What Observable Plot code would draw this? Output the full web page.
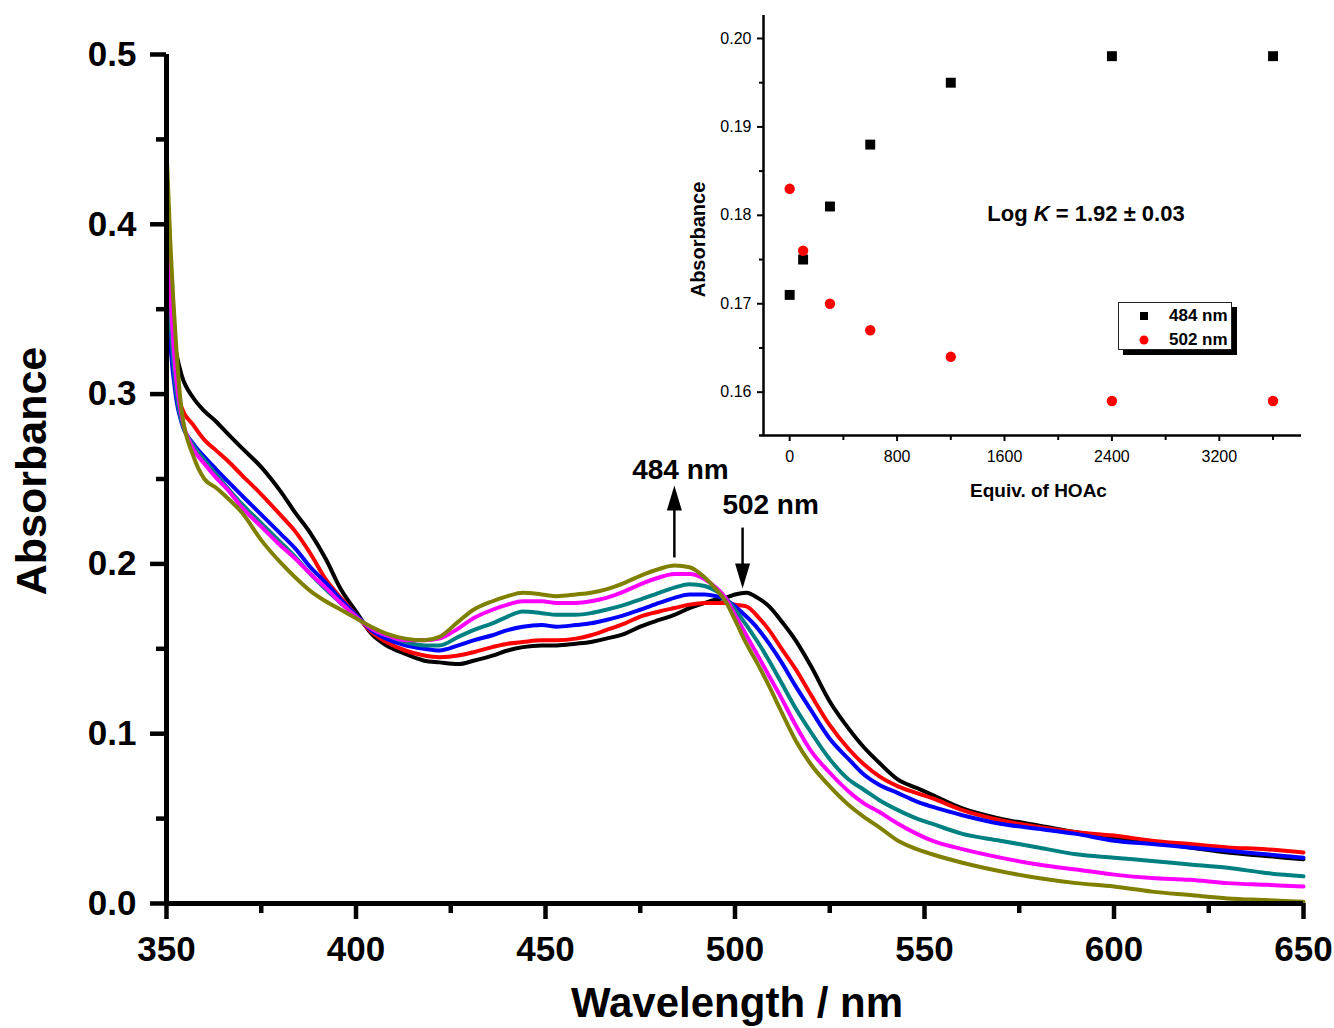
<!DOCTYPE html>
<html>
<head>
<meta charset="utf-8">
<script src="https://cdn.jsdelivr.net/npm/d3@7"></script>
<script src="https://cdn.jsdelivr.net/npm/@observablehq/plot@0.6"></script>
<style>
  body { margin: 0; background: #fff; }
  #wrap { position: relative; width: 1334px; height: 1028px; overflow: hidden; font-family: "Liberation Sans", Arial, sans-serif; }
  #inset { position: absolute; left: 680px; top: 0; }
  #logk { position: absolute; left: 1086px; top: 214px; transform: translate(-50%, -50%); font-weight: bold; font-size: 22px; white-space: nowrap; }
  #legend { position: absolute; left: 1118px; top: 302px; width: 114px; height: 48px; border: 1px solid #222; background: #fff; box-shadow: 5px 5px 0 #000; box-sizing: border-box; }
  #legend .row { position: absolute; left: 0; height: 20px; width: 114px; }
  #legend svg { position: absolute; left: 18px; top: 3px; }
  #legend span { position: absolute; left: 50px; top: 0; font-weight: bold; font-size: 17px; line-height: 20px; }
</style>
</head>
<body>
<div id="wrap"></div>
<script>
// ---------- Main spectra data ----------
const wavelengths = [350,351,352.5,354,357,360,363,366,370,375,380,384,388,392,396,400,404,408,413,418,422,427,431,436,440,444,449,453,458,462,466,471,475,480,484,488,492,495,497.5,500,503,506,509,512,516,520,525,530,534,538,543,548,552,560,570,580,590,600,610,620,630,640,650];

const absBlack = [0.370,0.345,0.325,0.311,0.298,0.290,0.284,0.277,0.268,0.257,0.243,0.230,0.218,0.203,0.185,0.172,0.159,0.152,0.147,0.143,0.142,0.141,0.143,0.146,0.149,0.151,0.152,0.152,0.153,0.154,0.156,0.159,0.163,0.167,0.170,0.174,0.177,0.179,0.180,0.182,0.183,0.180,0.175,0.167,0.155,0.140,0.119,0.103,0.092,0.083,0.073,0.068,0.064,0.056,0.050,0.046,0.042,0.039,0.036,0.033,0.030,0.028,0.026];
const absRed = [0.360,0.330,0.305,0.292,0.282,0.273,0.267,0.261,0.252,0.241,0.229,0.219,0.206,0.191,0.180,0.170,0.160,0.154,0.149,0.146,0.145,0.146,0.148,0.151,0.153,0.154,0.155,0.155,0.156,0.158,0.161,0.165,0.169,0.172,0.174,0.176,0.177,0.177,0.177,0.176,0.175,0.169,0.161,0.151,0.138,0.123,0.105,0.091,0.082,0.075,0.069,0.065,0.062,0.055,0.049,0.045,0.042,0.040,0.037,0.035,0.033,0.032,0.030];
const absBlue = [0.370,0.330,0.298,0.283,0.271,0.263,0.256,0.249,0.240,0.229,0.218,0.209,0.198,0.189,0.179,0.170,0.161,0.156,0.152,0.150,0.149,0.152,0.155,0.158,0.161,0.163,0.164,0.163,0.164,0.165,0.167,0.170,0.173,0.177,0.180,0.182,0.182,0.181,0.179,0.175,0.169,0.162,0.153,0.143,0.128,0.114,0.097,0.085,0.076,0.070,0.065,0.060,0.057,0.052,0.047,0.044,0.041,0.037,0.035,0.033,0.031,0.029,0.027];
const absTeal = [0.390,0.345,0.303,0.284,0.270,0.261,0.253,0.245,0.235,0.224,0.213,0.204,0.194,0.185,0.177,0.169,0.162,0.158,0.154,0.152,0.152,0.157,0.161,0.165,0.169,0.172,0.171,0.170,0.170,0.171,0.173,0.176,0.179,0.183,0.186,0.188,0.187,0.184,0.180,0.173,0.164,0.154,0.143,0.131,0.115,0.101,0.085,0.073,0.067,0.061,0.055,0.050,0.047,0.041,0.037,0.033,0.029,0.027,0.025,0.023,0.021,0.018,0.016];
const absMagenta = [0.410,0.360,0.310,0.287,0.268,0.259,0.251,0.244,0.233,0.222,0.211,0.203,0.194,0.186,0.177,0.169,0.162,0.158,0.155,0.155,0.156,0.162,0.168,0.173,0.176,0.178,0.178,0.177,0.177,0.178,0.180,0.184,0.188,0.192,0.194,0.194,0.191,0.186,0.180,0.170,0.158,0.146,0.134,0.122,0.105,0.090,0.077,0.066,0.059,0.054,0.047,0.041,0.037,0.032,0.027,0.023,0.020,0.017,0.015,0.014,0.012,0.011,0.010];
const absOlive = [0.445,0.390,0.330,0.290,0.264,0.250,0.245,0.239,0.230,0.214,0.201,0.192,0.184,0.178,0.173,0.168,0.163,0.159,0.156,0.155,0.157,0.166,0.173,0.178,0.181,0.183,0.182,0.181,0.182,0.183,0.185,0.189,0.193,0.197,0.199,0.198,0.192,0.185,0.178,0.167,0.153,0.141,0.128,0.114,0.096,0.082,0.069,0.058,0.051,0.045,0.037,0.032,0.029,0.024,0.019,0.015,0.012,0.010,0.007,0.005,0.003,0.002,0.001];

const seriesNames = ["0", "1", "2", "3", "4", "5"];
const seriesColors = ["#000000", "#ff0000", "#0000ff", "#008080", "#ff00ff", "#808000"];
const seriesValues = [absBlack, absRed, absBlue, absTeal, absMagenta, absOlive];

const xMajorTicks = [350, 400, 450, 500, 550, 600, 650];
const xMinorTicks = [375, 425, 475, 525, 575, 625];
const yMajorTicks = [0, 0.1, 0.2, 0.3, 0.4, 0.5];
const yMinorTicks = [0.05, 0.15, 0.25, 0.35, 0.45];

const xTitle = "Wavelength / nm";
const yTitle = "Absorbance";

// annotations (peak arrows)
const peakWl = [484, 502];
const peakLabels = ["484 nm", "502 nm"];

// ---------- Inset titration data ----------
const equiv = [0, 100, 300, 600, 1200, 2400, 3600];
const abs484 = [0.171, 0.175, 0.181, 0.188, 0.195, 0.198, 0.198];
const abs502 = [0.183, 0.176, 0.170, 0.167, 0.164, 0.159, 0.159];
const insetXMajor = [0, 800, 1600, 2400, 3200];
const insetXMinor = [400, 1200, 2000, 2800, 3600];
const insetYMajor = [0.16, 0.17, 0.18, 0.19, 0.20];
const insetYMinor = [0.165, 0.175, 0.185, 0.195];
const insetXTitle = "Equiv. of HOAc";
const insetYTitle = "Absorbance";
const legendLabels = ["484 nm", "502 nm"];
const legendColors = ["#000000", "#ff0000"];

const FONT = '"Liberation Sans", Arial, sans-serif';

// ---------- Build main chart ----------
const rows = [];
seriesValues.forEach((arr, k) => arr.forEach((a, i) => rows.push({wl: wavelengths[i], a, s: seriesNames[k]})));

const arrowUp = {draw(ctx) { ctx.moveTo(0, 0); ctx.lineTo(7.5, 25); ctx.lineTo(-7.5, 25); ctx.closePath(); }};

const arrows = [
  {wl: peakWl[0], y1: 0.2038, y2: 0.2330, tip: 0.2462, rot: 0, lx: 485.6, ly: 0.2550, label: peakLabels[0]},
  {wl: peakWl[1], y1: 0.2214, y2: 0.1970, tip: 0.1855, rot: 180, lx: 509.4, ly: 0.2344, label: peakLabels[1]}
];

const main = Plot.plot({
  width: 1334, height: 1028,
  marginLeft: 166, marginRight: 31, marginTop: 54, marginBottom: 125,
  x: {domain: [350, 650]},
  y: {domain: [0, 0.5]},
  color: {domain: seriesNames, range: seriesColors},
  style: {fontFamily: FONT, background: "white", overflow: "visible", color: "black"},
  marks: [
    Plot.line(rows, {x: "wl", y: "a", z: "s", stroke: "s", strokeWidth: 4, curve: "monotone-x"}),
    Plot.ruleX([350], {strokeWidth: 5}),
    Plot.ruleY([0], {strokeWidth: 5}),
    Plot.axisX(xMajorTicks, {tickSize: 16, tickPadding: 17, strokeWidth: 4.5, fontSize: 35, fontWeight: "bold", label: null}),
    Plot.axisX(xMinorTicks, {tickSize: 10, strokeWidth: 4.5, fill: "none", label: null}),
    Plot.axisY(yMajorTicks, {tickSize: 16, tickPadding: 14, strokeWidth: 4.5, fontSize: 35, fontWeight: "bold", label: null, tickFormat: d => d.toFixed(1)}),
    Plot.axisY(yMinorTicks, {tickSize: 10, strokeWidth: 4.5, fill: "none", label: null}),
    Plot.text([xTitle], {frameAnchor: "bottom", text: d => d, textAnchor: "middle", lineAnchor: "middle", dx: 2, dy: 100, fontSize: 42, fontWeight: "bold"}),
    Plot.text([yTitle], {frameAnchor: "left", text: d => d, textAnchor: "middle", lineAnchor: "middle", rotate: -90, dx: -134, dy: -8, fontSize: 43, fontWeight: "bold"}),
    Plot.link(arrows, {x1: "wl", x2: "wl", y1: "y1", y2: "y2", strokeWidth: 2.5, stroke: "black"}),
    Plot.dot(arrows, {x: "wl", y: "tip", symbol: arrowUp, rotate: "rot", fill: "black", stroke: "none"}),
    Plot.text(arrows, {x: "lx", y: "ly", text: "label", fontSize: 28, fontWeight: "bold"})
  ]
});

// ---------- Build inset ----------
const inset = Plot.plot({
  width: 654, height: 510,
  marginLeft: 83, marginRight: 33, marginTop: 15, marginBottom: 75,
  x: {domain: [-195, 3812]},
  y: {domain: [0.1551, 0.2026]},
  style: {fontFamily: FONT, background: "transparent", overflow: "visible", color: "black"},
  marks: [
    Plot.ruleX([-195], {strokeWidth: 2.5}),
    Plot.ruleY([0.1551], {x1: -225, x2: 3812, strokeWidth: 2.5}),
    Plot.axisX(insetXMajor, {tickSize: 6, tickPadding: 9, strokeWidth: 2, fontSize: 16, label: null, tickFormat: d => String(d)}),
    Plot.axisX(insetXMinor, {tickSize: 5, strokeWidth: 2, fill: "none", label: null}),
    Plot.axisY(insetYMajor, {tickSize: 6, tickPadding: 6, strokeWidth: 2, fontSize: 16, label: null, tickFormat: d => d.toFixed(2)}),
    Plot.axisY(insetYMinor, {tickSize: 4, strokeWidth: 2, fill: "none", label: null}),
    Plot.dot(equiv, {x: d => d, y: (d, i) => abs484[i], symbol: "square", r: 5.6, fill: legendColors[0], stroke: "none"}),
    Plot.dot(equiv, {x: d => d, y: (d, i) => abs502[i], symbol: "circle", r: 5.2, fill: legendColors[1], stroke: "none"}),
    Plot.text([insetXTitle], {frameAnchor: "bottom", text: d => d, textAnchor: "middle", lineAnchor: "middle", dx: 6, dy: 55, fontSize: 19, fontWeight: "bold"}),
    Plot.text([insetYTitle], {frameAnchor: "left", text: d => d, textAnchor: "middle", lineAnchor: "middle", rotate: -90, dx: -65, dy: 14, fontSize: 20, fontWeight: "bold"})
  ]
});

const wrap = document.getElementById("wrap");
wrap.appendChild(main);
inset.id = "inset";
wrap.appendChild(inset);

// Log K annotation
const logk = document.createElement("div");
logk.id = "logk";
logk.innerHTML = "Log <i>K</i> = 1.92 ± 0.03";
wrap.appendChild(logk);

// Legend
const legend = document.createElement("div");
legend.id = "legend";
legendLabels.forEach((lab, i) => {
  const row = document.createElement("div");
  row.className = "row";
  row.style.top = (3 + i * 24) + "px";
  const ns = "http://www.w3.org/2000/svg";
  const svg = document.createElementNS(ns, "svg");
  svg.setAttribute("width", 14); svg.setAttribute("height", 14);
  let shape;
  if (i === 0) {
    shape = document.createElementNS(ns, "rect");
    shape.setAttribute("x", 3); shape.setAttribute("y", 3); shape.setAttribute("width", 8); shape.setAttribute("height", 8);
  } else {
    shape = document.createElementNS(ns, "circle");
    shape.setAttribute("cx", 7); shape.setAttribute("cy", 7); shape.setAttribute("r", 4.5);
  }
  shape.setAttribute("fill", legendColors[i]);
  svg.appendChild(shape);
  const span = document.createElement("span");
  span.textContent = lab;
  row.appendChild(svg); row.appendChild(span);
  legend.appendChild(row);
});
wrap.appendChild(legend);
</script>
</body>
</html>
